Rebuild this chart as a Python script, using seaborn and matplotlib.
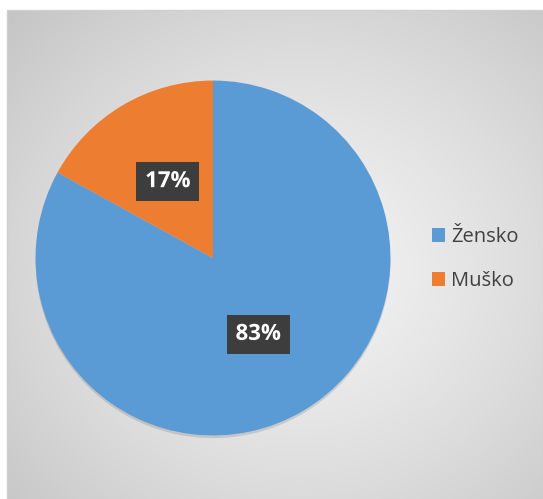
import numpy as np
import matplotlib
matplotlib.use("Agg")
import matplotlib.pyplot as plt
import matplotlib.patheffects as pe
import seaborn as sns

labels = ["Žensko", "Muško"]
values = [83, 17]
colors = ["#5b9bd5", "#ed7d31"]

sns.set_style("white")
plt.rcParams["font.family"] = ["Open Sans", "DejaVu Sans"]

W, H = 543, 499
fig = plt.figure(figsize=(W / 100, H / 100), dpi=100)
fig.patch.set_facecolor("white")

# chart area with radial gradient background
x0, y0 = 7, 10
bg = fig.add_axes([x0 / W, 0, 1 - x0 / W, 1 - y0 / H])
bw, bh = W - x0, H - y0
yy, xx = np.mgrid[0:bh, 0:bw]
cx, cy = 300 - x0, 270 - y0
d = np.sqrt(((xx - cx) / bw) ** 2 + ((yy - cy) / bh) ** 2)
d = d / d.max()
val = 0.955 - 0.185 * d ** 1.3
img = np.dstack([val, val, val])
bg.imshow(img, aspect="auto", extent=[0, bw, bh, 0])
bg.set_axis_off()
fig.patches.append(plt.Rectangle((x0 / W, 0), 1 - x0 / W, 1 - y0 / H,
                                 transform=fig.transFigure, fill=False,
                                 edgecolor="#d0d0d0", lw=1))

# pie
r = 181
pcx, pcy = 213, 258
ax = fig.add_axes([(pcx - r) / W, (H - pcy - r) / H, 2 * r / W, 2 * r / H])
shadow = plt.Circle((0, -0.015), 1.0, color="k", alpha=0.12, lw=0, zorder=0)
ax.add_patch(shadow)
wedges, texts, autotexts = ax.pie(
    values, colors=colors, startangle=90, counterclock=False,
    autopct="%d%%", pctdistance=0.5, radius=1,
    wedgeprops=dict(linewidth=0),
    textprops=dict(color="white", fontsize=16, fontweight="bold"))
for t in autotexts:
    t.set_bbox(dict(boxstyle="square,pad=0.4", facecolor="#3d3d3d", edgecolor="none"))
    t.set_path_effects([pe.withStroke(linewidth=1, foreground="#3d3d3d")])
ax.set_xlim(-1.02, 1.02)
ax.set_ylim(-1.02, 1.02)
ax.set_aspect("equal")
ax.set_axis_off()

leg = fig.legend(wedges, labels, loc="center left", bbox_to_anchor=(414 / W, 1 - 259 / H),
                 frameon=False, fontsize=14.5, handlelength=0.65, handleheight=0.65,
                 handletextpad=0.3, labelspacing=1.2, labelcolor="#404040")

fig.savefig("out.png", dpi=100)
